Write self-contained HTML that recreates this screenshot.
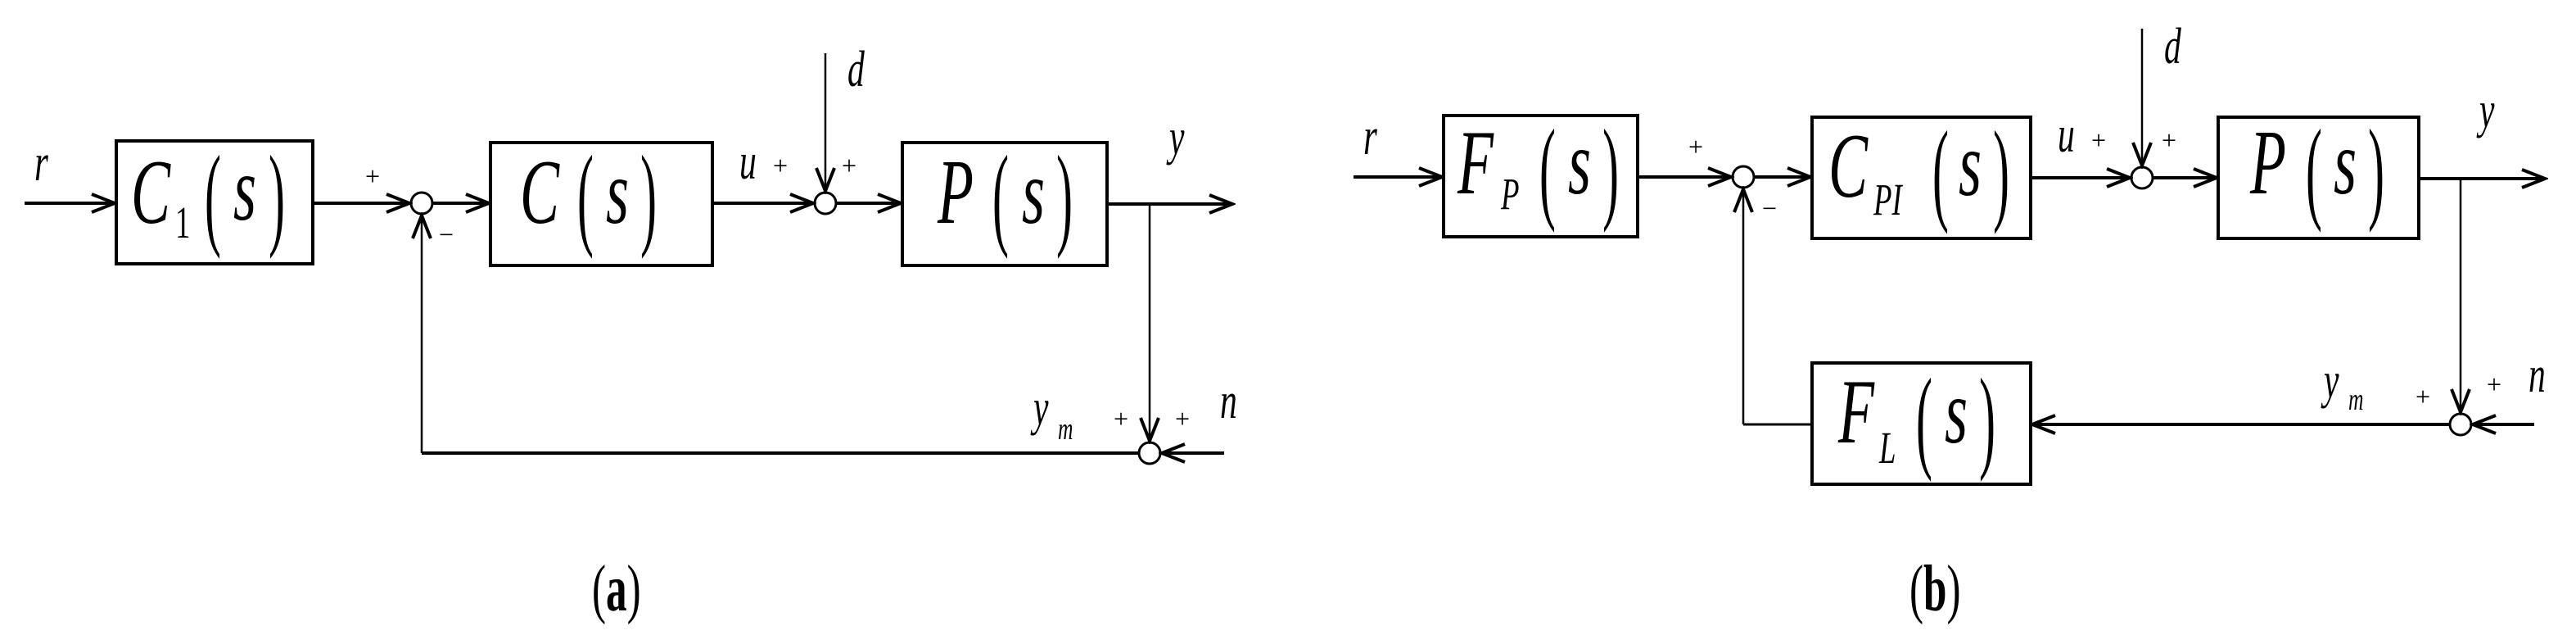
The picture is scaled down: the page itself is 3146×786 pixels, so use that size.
<!DOCTYPE html>
<html><head><meta charset="utf-8"><style>
html,body{margin:0;padding:0;background:#fff;}
svg{display:block;}
text{font-family:"Liberation Serif",serif;fill:#000;}
.it{font-style:italic;}
</style></head><body>
<svg width="3146" height="786" viewBox="0 0 3146 786" xmlns="http://www.w3.org/2000/svg">
<defs>
<marker id="ar" markerWidth="34" markerHeight="26" refX="30" refY="13" orient="auto" markerUnits="userSpaceOnUse">
<path d="M2,2 L30,13 L2,24" fill="none" stroke="#000" stroke-width="4"/>
</marker>
</defs>
<g stroke="#000" fill="none">
<rect x="142" y="172" width="240" height="150" stroke-width="4"/>
<rect x="599" y="174" width="271" height="150" stroke-width="4"/>
<rect x="1102" y="174" width="250" height="150" stroke-width="4"/>
<circle cx="515" cy="248" r="13" stroke-width="3"/>
<circle cx="1008" cy="248" r="13" stroke-width="3"/>
<circle cx="1404" cy="553" r="13" stroke-width="3"/>
<g stroke-width="4" marker-end="url(#ar)">
<line x1="30" y1="248" x2="140" y2="248"/>
<line x1="382" y1="248" x2="500" y2="248"/>
<line x1="528" y1="248" x2="597" y2="248"/>
<line x1="870" y1="248" x2="993" y2="248"/>
<line x1="1021" y1="248" x2="1100" y2="248"/>
<line x1="1352" y1="249" x2="1505" y2="249"/>
<line x1="1495" y1="553" x2="1419" y2="553"/>
</g>
<g stroke-width="2.5" marker-end="url(#ar)">
<line x1="1008" y1="65" x2="1008" y2="233"/>
<line x1="1404" y1="249" x2="1404" y2="538"/>
<line x1="515" y1="553" x2="515" y2="263"/>
</g>
<line x1="1391" y1="553" x2="515" y2="553" stroke-width="4"/>
<rect x="1763" y="141" width="237" height="148" stroke-width="4"/>
<rect x="2213" y="143" width="267" height="148" stroke-width="4"/>
<rect x="2709" y="143" width="245" height="148" stroke-width="4"/>
<rect x="2213" y="443" width="267" height="148" stroke-width="4"/>
<circle cx="2129" cy="216" r="13" stroke-width="3"/>
<circle cx="2616" cy="217" r="13" stroke-width="3"/>
<circle cx="3005" cy="518" r="13" stroke-width="3"/>
<g stroke-width="4" marker-end="url(#ar)">
<line x1="1653" y1="216" x2="1761" y2="216"/>
<line x1="2000" y1="216" x2="2114" y2="216"/>
<line x1="2142" y1="216" x2="2211" y2="216"/>
<line x1="2480" y1="217" x2="2601" y2="217"/>
<line x1="2629" y1="217" x2="2707" y2="217"/>
<line x1="2954" y1="218" x2="3108" y2="218"/>
<line x1="3095" y1="518" x2="3020" y2="518"/>
<line x1="2992" y1="518" x2="2482" y2="518"/>
</g>
<g stroke-width="2.5" marker-end="url(#ar)">
<line x1="2616" y1="35" x2="2616" y2="202"/>
<line x1="3005" y1="218" x2="3005" y2="503"/>
<line x1="2129" y1="518" x2="2129" y2="231"/>
</g>
<line x1="2213" y1="518" x2="2129" y2="518" stroke-width="3"/>
</g>
<!-- Text panel a -->
<text transform="translate(42,220) scale(0.8,1.2)" font-size="54" class="it">r</text>
<text transform="translate(160,272) scale(0.8,1.25)" font-size="90" class="it">C</text>
<text transform="translate(214,290) scale(0.8,1.2)" font-size="46">1</text>
<text transform="translate(250,286) scale(0.6,1.4)" font-size="100">(</text>
<text transform="translate(285,268) scale(0.8,1.25)" font-size="90" class="it">s</text>
<text transform="translate(328,286) scale(0.6,1.4)" font-size="100">)</text>
<text x="446" y="226" font-size="32">+</text>
<text x="536" y="297" font-size="32">−</text>
<text transform="translate(635,272) scale(0.8,1.25)" font-size="90" class="it">C</text>
<text transform="translate(705,286) scale(0.6,1.4)" font-size="100">(</text>
<text transform="translate(740,272) scale(0.8,1.25)" font-size="90" class="it">s</text>
<text transform="translate(782,286) scale(0.6,1.4)" font-size="100">)</text>
<text transform="translate(903,218) scale(0.8,1.2)" font-size="52" class="it">u</text>
<text x="944" y="213" font-size="32">+</text>
<text x="1028" y="213" font-size="32">+</text>
<text transform="translate(1035,105) scale(0.8,1.2)" font-size="52" class="it">d</text>
<text transform="translate(1145,272) scale(0.8,1.25)" font-size="90" class="it">P</text>
<text transform="translate(1212,286) scale(0.6,1.4)" font-size="100">(</text>
<text transform="translate(1248,272) scale(0.8,1.25)" font-size="90" class="it">s</text>
<text transform="translate(1290,286) scale(0.6,1.4)" font-size="100">)</text>
<text transform="translate(1428,188) scale(0.8,1.2)" font-size="52" class="it">y</text>
<text transform="translate(1262,518) scale(0.8,1.2)" font-size="52" class="it">y</text>
<text transform="translate(1292,536) scale(0.8,1.2)" font-size="32" class="it">m</text>
<text x="1360" y="522" font-size="32">+</text>
<text x="1435" y="522" font-size="32">+</text>
<text transform="translate(1490,510) scale(0.8,1.2)" font-size="52" class="it">n</text>
<text transform="translate(723,745) scale(0.8,1.25)" font-size="64">(<tspan font-weight="bold">a</tspan>)</text>
<!-- Text panel b -->
<text transform="translate(1665,188) scale(0.8,1.2)" font-size="54" class="it">r</text>
<text transform="translate(1780,236) scale(0.8,1.25)" font-size="90" class="it">F</text>
<text transform="translate(1833,255) scale(0.8,1.2)" font-size="46" class="it">P</text>
<text transform="translate(1880,254) scale(0.6,1.4)" font-size="100">(</text>
<text transform="translate(1915,236) scale(0.8,1.25)" font-size="90" class="it">s</text>
<text transform="translate(1957,254) scale(0.6,1.4)" font-size="100">)</text>
<text x="2062" y="190" font-size="32">+</text>
<text x="2152" y="265" font-size="32">−</text>
<text transform="translate(2233,240) scale(0.8,1.25)" font-size="90" class="it">C</text>
<text transform="translate(2288,262) scale(0.8,1.2)" font-size="46" class="it">PI</text>
<text transform="translate(2360,256) scale(0.6,1.4)" font-size="100">(</text>
<text transform="translate(2392,238) scale(0.8,1.25)" font-size="90" class="it">s</text>
<text transform="translate(2434,256) scale(0.6,1.4)" font-size="100">)</text>
<text transform="translate(2513,185) scale(0.8,1.2)" font-size="52" class="it">u</text>
<text x="2554" y="182" font-size="32">+</text>
<text x="2640" y="182" font-size="32">+</text>
<text transform="translate(2643,77) scale(0.8,1.2)" font-size="52" class="it">d</text>
<text transform="translate(2748,236) scale(0.8,1.25)" font-size="90" class="it">P</text>
<text transform="translate(2816,254) scale(0.6,1.4)" font-size="100">(</text>
<text transform="translate(2850,236) scale(0.8,1.25)" font-size="90" class="it">s</text>
<text transform="translate(2892,254) scale(0.6,1.4)" font-size="100">)</text>
<text transform="translate(3028,155) scale(0.8,1.2)" font-size="52" class="it">y</text>
<text transform="translate(2245,540) scale(0.8,1.25)" font-size="90" class="it">F</text>
<text transform="translate(2295,565) scale(0.8,1.2)" font-size="46" class="it">L</text>
<text transform="translate(2340,558) scale(0.6,1.4)" font-size="100">(</text>
<text transform="translate(2375,540) scale(0.8,1.25)" font-size="90" class="it">s</text>
<text transform="translate(2417,558) scale(0.6,1.4)" font-size="100">)</text>
<text transform="translate(2838,485) scale(0.8,1.2)" font-size="52" class="it">y</text>
<text transform="translate(2868,500) scale(0.8,1.2)" font-size="32" class="it">m</text>
<text x="2950" y="495" font-size="32">+</text>
<text x="3037" y="480" font-size="32">+</text>
<text transform="translate(3088,478) scale(0.8,1.2)" font-size="52" class="it">n</text>
<text transform="translate(2332,745) scale(0.8,1.25)" font-size="64">(<tspan font-weight="bold">b</tspan>)</text>
</svg>
</body></html>
